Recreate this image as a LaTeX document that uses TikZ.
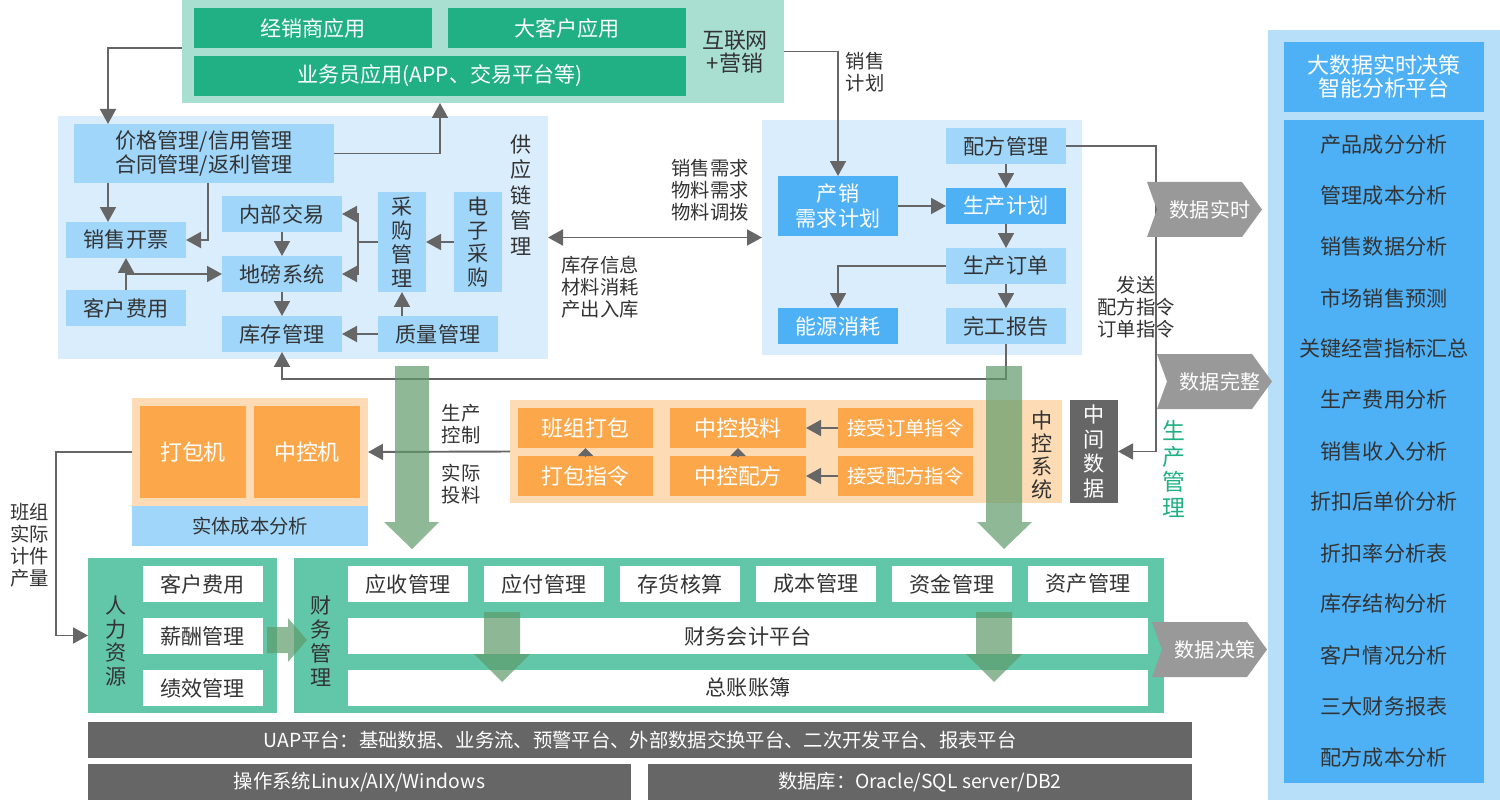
\documentclass[tikz,border=0pt]{standalone}
\usepackage{fontspec}
\setmainfont{Noto Sans CJK SC}
\usetikzlibrary{arrows.meta}

\definecolor{webpanel}{RGB}{168,223,208}
\definecolor{webbox}{RGB}{33,175,132}
\definecolor{scpanel}{RGB}{218,237,253}
\definecolor{lightbox}{RGB}{160,214,250}
\definecolor{midbox}{RGB}{78,177,246}
\definecolor{bipanel}{RGB}{184,223,250}
\definecolor{orpanel}{RGB}{253,220,181}
\definecolor{orbox}{RGB}{252,167,74}
\definecolor{finpanel}{RGB}{98,198,169}
\definecolor{darkbar}{RGB}{102,102,102}
\definecolor{chevgray}{RGB}{153,153,153}
\definecolor{linegray}{RGB}{102,102,102}
\definecolor{txt}{RGB}{51,51,51}
\definecolor{bigarrow}{RGB}{95,155,105}

\newcommand{\setfs}[2]{\fontsize{#1}{#2}\selectfont}

\begin{document}
\begin{tikzpicture}[
        x=0.02cm, y=-0.02cm,
        sz/.style 2 args={minimum width=#1*0.02cm, minimum height=#2*0.02cm},
        panel/.style={inner sep=0pt, outer sep=0pt},
        cell/.style={inner sep=0pt, outer sep=0pt, align=center, font=\setfs{12}{14.2}},
        lbox/.style={cell, fill=lightbox, text=txt},
        mbox/.style={cell, fill=midbox, text=white},
        gbox/.style={cell, fill=webbox, text=white},
        obox/.style={cell, fill=orbox, text=white, font=\setfs{12.5}{14}},
        wbox/.style={cell, fill=white, text=txt},
        bar/.style={cell, fill=darkbar, text=white, font=\setfs{11}{13}},
        vlabel/.style={align=center, inner sep=0pt, text=txt, font=\setfs{12}{13.6}},
        note/.style={align=center, inner sep=0pt, text=txt, font=\setfs{11}{12.5}},
        line/.style={draw=linegray, line width=1.1pt},
        arrow/.style={line, -{Triangle[length=0.3cm, width=0.32cm]}},
        tiny/.style={line, -{Triangle[length=0.16cm, width=0.3cm]}},
        fatarrow/.style={fill=bigarrow, fill opacity=0.7},
        chevron/.style={fill=chevgray}
    ]
    \useasboundingbox (0,0) rectangle (1500,800);

    % ==========================================
    % TOP: internet + marketing
    % ==========================================
    \node[panel, fill=webpanel, sz={602}{103}] (web) at (483,51.5) {};
    \node[gbox, sz={238}{40}] (dealer) at (313,28) {经销商应用};
    \node[gbox, sz={238}{40}] (bigcust) at (567,28) {大客户应用};
    \node[gbox, sz={492}{40}] (salesman) at (440,76) {业务员应用(APP、交易平台等)};
    \node[vlabel, font=\setfs{12.5}{13}] (webtitle) at (735,52) {互联网\\+营销};

    % ==========================================
    % SUPPLY CHAIN
    % ==========================================
    \node[panel, fill=scpanel, sz={490}{243}] (scm) at (303,237.5) {};
    \node[lbox, sz={260}{59}] (price) at (204,153.5) {价格管理/信用管理\\合同管理/返利管理};
    \node[lbox, sz={120}{36}] (invoice) at (126,240) {销售开票};
    \node[lbox, sz={120}{36}] (custfee) at (126,308) {客户费用};
    \node[lbox, sz={120}{36}] (inner) at (282,214) {内部交易};
    \node[lbox, sz={120}{36}] (scale) at (282,274) {地磅系统};
    \node[lbox, sz={120}{36}] (stock) at (282,334) {库存管理};
    \node[lbox, sz={48}{100}, font=\setfs{12}{13.6}] (purch) at (402,242) {采\\购\\管\\理};
    \node[lbox, sz={48}{100}, font=\setfs{12}{13.6}] (epurch) at (478,242) {电\\子\\采\\购};
    \node[lbox, sz={120}{36}] (quality) at (438,334) {质量管理};
    \node[vlabel, font=\setfs{12}{14.6}] (scmtitle) at (521,195) {供\\应\\链\\管\\理};
    \coordinate (pj) at (358,242);

    % ==========================================
    % PRODUCTION
    % ==========================================
    \node[panel, fill=scpanel, sz={320}{235}] (prod) at (922,237.5) {};
    \node[mbox, sz={120}{60}] (psplan) at (838,206) {产销\\需求计划};
    \node[lbox, sz={120}{36}] (formula) at (1006,146) {配方管理};
    \node[mbox, sz={120}{36}] (pplan) at (1006,206) {生产计划};
    \node[lbox, sz={120}{36}] (porder) at (1006,266) {生产订单};
    \node[mbox, sz={120}{36}] (energy) at (838,326) {能源消耗};
    \node[lbox, sz={120}{36}] (done) at (1006,326) {完工报告};

    \node[note] (demand) at (710,190) {销售需求\\物料需求\\物料调拨};
    \node[note] (stockinfo) at (600,287) {库存信息\\材料消耗\\产出入库};
    \node[note] (plan) at (865,72.5) {销售\\计划};
    \node[note] (sendcmd) at (1136,307) {发送\\配方指令\\订单指令};

    % ==========================================
    % CENTRAL CONTROL
    % ==========================================
    \node[panel, fill=orpanel, sz={552}{103}] (ctrl) at (786,451.5) {};
    \node[obox, sz={135}{40}] (teampack) at (585.5,428) {班组打包};
    \node[obox, sz={135}{40}] (packcmd) at (585.5,476) {打包指令};
    \node[obox, sz={136}{40}] (feed) at (738,428) {中控投料};
    \node[obox, sz={136}{40}] (recipe) at (738,476) {中控配方};
    \node[obox, sz={135}{40}, font=\setfs{11}{13}] (getorder) at (905.5,428) {接受订单指令};
    \node[obox, sz={135}{40}, font=\setfs{11}{13}] (getrecipe) at (905.5,476) {接受配方指令};
    \node[vlabel, font=\setfs{12}{13}] (ctrltitle) at (1042,455) {中\\控\\系\\统};
    \node[cell, fill=darkbar, text=white, sz={48}{103}, font=\setfs{12}{13.9}] (midata) at (1094,451.5) {中\\间\\数\\据};
    \node[vlabel, text=webbox, font=\setfs{13}{14.6}] (prodmgmt) at (1174,469) {生\\产\\管\\理};

    % machines
    \node[panel, fill=orpanel, sz={236}{108}] (machines) at (250,452) {};
    \node[obox, sz={106}{92}] (packer) at (193,452) {打包机};
    \node[obox, sz={106}{92}] (ctrlpc) at (307,452) {中控机};
    \node[lbox, sz={236}{40}, font=\setfs{11}{13}] (entity) at (250,526) {实体成本分析};
    \node[note] (pctrl) at (461,424) {生产\\控制};
    \node[note] (feedlbl) at (461,484) {实际\\投料};
    \node[note] (piece) at (30,545) {班组\\实际\\计件\\产量};

    % ==========================================
    % HR + FINANCE
    % ==========================================
    \node[panel, fill=finpanel, sz={189}{155}] (hr) at (182.5,635.5) {};
    \node[wbox, sz={120}{36}] (hrfee) at (202.5,584) {客户费用};
    \node[wbox, sz={120}{36}] (salary) at (202.5,636) {薪酬管理};
    \node[wbox, sz={120}{36}] (perf) at (202.5,688) {绩效管理};
    \node[vlabel] (hrtitle) at (116,641) {人\\力\\资\\源};

    \node[panel, fill=finpanel, sz={870}{155}] (fin) at (729,635.5) {};
    \node[vlabel] (fintitle) at (321,641) {财\\务\\管\\理};
    \foreach \nm/\tx [count=\i from 0] in {recv/应收管理, pay/应付管理, inv/存货核算, cost/成本管理, fund/资金管理, asset/资产管理}
        \node[wbox, sz={120}{36}] (\nm) at (408+136*\i,584) {\tx};
    \node[wbox, sz={800}{36}] (acct) at (748,636) {财务会计平台};
    \node[wbox, sz={800}{36}] (ledger) at (748,688) {总账账簿};

    % platform bars
    \node[bar, sz={1104}{36}] (uap) at (640,740) {UAP平台：基础数据、业务流、预警平台、外部数据交换平台、二次开发平台、报表平台};
    \node[bar, sz={543}{36}] (os) at (359.5,782) {操作系统Linux/AIX/Windows};
    \node[bar, sz={544}{36}] (db) at (920,782) {数据库：Oracle/SQL server/DB2};

    % ==========================================
    % BIG DATA PLATFORM
    % ==========================================
    \node[panel, fill=bipanel, sz={232}{770}] (bi) at (1384,415) {};
    \node[mbox, sz={200}{70}, font=\setfs{12.5}{13}] (bititle) at (1384,77) {大数据实时决策\\智能分析平台};
    \node[panel, fill=midbox, sz={200}{663}] (bilist) at (1384,451.5) {};
    \foreach \tx [count=\i from 0] in {产品成分分析, 管理成本分析, 销售数据分析, 市场销售预测, 关键经营指标汇总, 生产费用分析, 销售收入分析, 折扣后单价分析, 折扣率分析表, 库存结构分析, 客户情况分析, 三大财务报表, 配方成本分析}
        \node[cell, text=txt] (item\i) at (1384,145+51*\i) {\tx};

    % ==========================================
    % CONNECTORS
    % ==========================================
    \draw[arrow] (web.west |- 0,48) -| (price.north -| 108,0);
    \draw[arrow] (price.east) -| (web.south -| 440,0);
    \draw[arrow] (price.south -| 108,0) -- (invoice.north -| 108,0);
    \draw[arrow] (price.south -| 208,0) |- (invoice.east);
    \draw[arrow] (custfee.north) -- (invoice.south);
    \draw[arrow] (custfee.north |- scale.west) -- (scale.west);
    \draw[arrow] (inner) -- (scale);
    \draw[arrow] (scale) -- (stock);
    \draw[arrow] (purch.west) -- (pj) |- (inner.east);
    \draw[arrow] (pj) |- (scale.east);
    \draw[arrow] (epurch) -- (purch);
    \draw[arrow] (purch.south |- quality.north) -- (purch.south);
    \draw[arrow] (quality) -- (stock);
    \draw[arrow] (done.south) -- (done.south |- 0,379) -| (stock.south);

    \draw[arrow] (web.east) -| (psplan.north);
    \draw[arrow] (psplan) -- (pplan);
    \draw[arrow] (formula) -- (pplan);
    \draw[arrow] (pplan) -- (porder);
    \draw[arrow] (porder) -- (done);
    \draw[arrow] (porder.west) -| (energy.north);
    \draw[line, {Triangle[length=0.3cm, width=0.32cm]}-{Triangle[length=0.3cm, width=0.32cm]}] (scm.east) -- (prod.west);
    \draw[arrow] (formula.east) -- (formula.east -| 1156,0) -- (midata.east -| 1156,0) -- (midata.east);

    \draw[arrow] (ctrl.west) -- (machines.east);
    \draw[arrow] (machines.west) -- (machines.west -| 56,0) |- (hr.west);
    \draw[tiny] (packcmd.north) -- (teampack.south);
    \draw[tiny] (recipe.north) -- (feed.south);
    \draw[arrow] (getorder) -- (feed);
    \draw[arrow] (getrecipe) -- (recipe);

    % fat arrows
    \fill[fatarrow] (395,366) -- (429,366) -- (429,522) -- (439,522) -- (412,549) -- (384,522) -- (395,522) -- cycle;
    \fill[fatarrow] (986,366) -- (1022,366) -- (1022,522) -- (1032,522) -- (1004,549) -- (977,522) -- (986,522) -- cycle;
    \fill[fatarrow] (484,612) -- (520,612) -- (520,654) -- (530,654) -- (502,682) -- (474,654) -- (484,654) -- cycle;
    \fill[fatarrow] (976,612) -- (1012,612) -- (1012,654) -- (1022,654) -- (994,682) -- (966,654) -- (976,654) -- cycle;
    \fill[fatarrow] (267,627) -- (288,627) -- (288,618) -- (307,640) -- (288,662) -- (288,653) -- (267,653) -- cycle;

    % chevrons
    \foreach \xa/\ya/\nm/\tx in {1147/182/realtime/数据实时, 1157/354/complete/数据完整, 1152/622/decide/数据决策} {
        \fill[chevron] (\xa,\ya) -- ++(95,0) -- ++(20,27.5) -- ++(-20,27.5) -- ++(-95,0) -- ++(10,-27.5) -- cycle;
        \node[cell, text=white, font=\setfs{11.4}{13}] (\nm) at (\xa+63,\ya+27.5) {\tx};
    }

\end{tikzpicture}
\end{document}
